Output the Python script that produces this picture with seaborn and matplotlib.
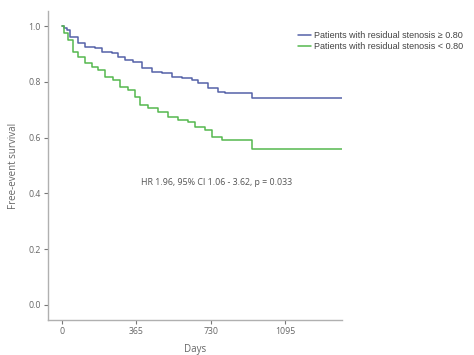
import matplotlib
matplotlib.use("Agg")
import matplotlib.pyplot as plt
import seaborn as sns
import pandas as pd

# ---- data ----
blue_days = [0, 10, 23, 39, 78, 113, 162, 196, 245, 274, 309, 348, 392, 441, 490, 539,
             588, 637, 666, 715, 764, 799, 931, 1372]
blue_surv = [1.0, 0.993, 0.986, 0.96, 0.94, 0.925, 0.92, 0.907, 0.904, 0.89, 0.879,
             0.872, 0.85, 0.836, 0.832, 0.818, 0.814, 0.807, 0.796, 0.778, 0.764, 0.76,
             0.742, 0.742]
green_days = [0, 10, 29, 54, 78, 113, 147, 176, 211, 250, 284, 323, 358, 382, 421, 470,
              519, 568, 617, 652, 701, 735, 784, 931, 1372]
green_surv = [1.0, 0.975, 0.95, 0.907, 0.89, 0.868, 0.854, 0.843, 0.818, 0.807, 0.782,
              0.771, 0.746, 0.717, 0.706, 0.692, 0.674, 0.664, 0.656, 0.638, 0.628,
              0.603, 0.59, 0.56, 0.56]
group_labels = ["Patients with residual stenosis \u2265 0.80",
                "Patients with residual stenosis < 0.80"]
x_ticks = [0, 365, 730, 1095]
y_ticks = [0.0, 0.2, 0.4, 0.6, 0.8, 1.0]
annotation = "HR 1.96, 95% CI 1.06 - 3.62, p = 0.033"

df = pd.concat([
    pd.DataFrame({"Days": blue_days, "Survival": blue_surv, "Group": group_labels[0]}),
    pd.DataFrame({"Days": green_days, "Survival": green_surv, "Group": group_labels[1]}),
], ignore_index=True)

sns.set_theme(style="white")
plt.rcParams["font.family"] = ["Open Sans", "DejaVu Sans"]

fig = plt.figure(figsize=(4.74, 3.55), dpi=100)
ax = fig.add_axes([0.101, 0.0986, 0.62, 0.87])

palette = {group_labels[0]: "#5562a8", group_labels[1]: "#55b84e"}
sns.lineplot(data=df, x="Days", y="Survival", hue="Group", palette=palette,
             estimator=None, drawstyle="steps-post", linewidth=1.1, ax=ax)

ax.set_xlim(-69, 1372)
ax.set_ylim(-0.054, 1.054)
ax.set_xticks(x_ticks)
ax.set_xticklabels([str(t) for t in x_ticks])
ax.set_yticks(y_ticks)
ax.set_yticklabels([f"{t:.1f}" for t in y_ticks])

for s in ["top", "right"]:
    ax.spines[s].set_visible(False)
for s in ["left", "bottom"]:
    ax.spines[s].set_color("#b0b0b0")
    ax.spines[s].set_linewidth(1.0)
ax.tick_params(axis="both", which="major", direction="out", length=3, width=0.8,
               color="#777777", labelsize=6.3, labelcolor="#666666", pad=2,
               bottom=True, left=True)

ax.set_xlabel("Days", fontsize=7, color="#666666", labelpad=6)
ax.set_ylabel("Free-event survival", fontsize=7, color="#666666", labelpad=7)

ax.text(760, 0.44, annotation, fontsize=6.4, color="#555555", ha="center", va="center")

leg = ax.legend(loc="upper left", bbox_to_anchor=(0.84, 0.946), frameon=False,
                fontsize=6.5, handlelength=1.4, handletextpad=0.3, labelspacing=0.2,
                borderaxespad=0)
for t in leg.get_texts():
    t.set_family(["Liberation Sans", "DejaVu Sans"])
    t.set_color("#444444")

fig.savefig("out.png", dpi=100)
